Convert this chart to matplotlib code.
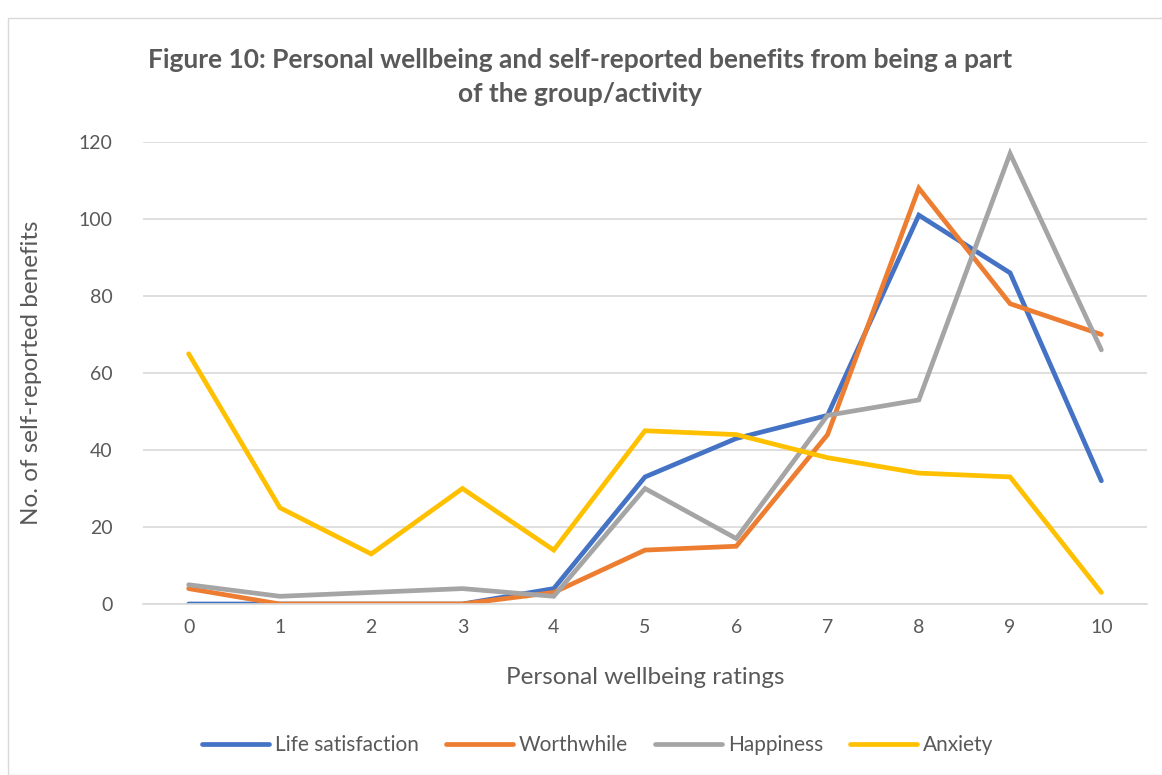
import matplotlib
matplotlib.use("Agg")
import matplotlib.pyplot as plt
from matplotlib.patches import Rectangle

ratings = [0, 1, 2, 3, 4, 5, 6, 7, 8, 9, 10]
life_satisfaction = [0, 0, 0, 0, 4, 33, 43, 49, 101, 86, 32]
worthwhile = [4, 0, 0, 0, 3, 14, 15, 44, 108, 78, 70]
happiness = [5, 2, 3, 4, 2, 30, 17, 49, 53, 117, 66]
anxiety = [65, 25, 13, 30, 14, 45, 44, 38, 34, 33, 3]

series = [
    ("Life satisfaction", life_satisfaction, "#4472C4"),
    ("Worthwhile", worthwhile, "#ED7D31"),
    ("Happiness", happiness, "#A5A5A5"),
    ("Anxiety", anxiety, "#FFC000"),
]

plt.rcParams['font.family'] = ['Lato', 'DejaVu Sans']
txt = "#595959"

fig = plt.figure(figsize=(11.62, 7.75), dpi=100)
fig.patches.append(Rectangle((8 / 1162, 0), 1.2, 1 - 18 / 775, transform=fig.transFigure,
                             fill=False, edgecolor="#d9d9d9", lw=1))
ax = fig.add_axes([143 / 1162, 1 - 604 / 775, 1004 / 1162, 462 / 775])

for name, vals, col in series:
    ax.plot(ratings, vals, color=col, lw=3.4, label=name, solid_capstyle='round',
            solid_joinstyle='miter')

ax.set_xlim(-0.5, 10.5)
ax.set_ylim(0, 120)
ax.set_yticks(range(0, 121, 20))
ax.set_xticks(ratings)
ax.grid(axis='y', color="#d9d9d9", lw=1.2)
ax.set_axisbelow(True)
for s in ['top', 'right', 'left']:
    ax.spines[s].set_visible(False)
ax.spines['bottom'].set_color("#d9d9d9")
ax.spines['bottom'].set_linewidth(1.2)
ax.tick_params(length=0, labelsize=14, colors=txt, pad=11)
ax.tick_params(axis='y', pad=22)

ax.set_xlabel("Personal wellbeing ratings", fontsize=17.5, color=txt, labelpad=22)
ax.set_ylabel("No. of self-reported benefits", fontsize=17.5, color=txt, labelpad=26)

fig.text(580 / 1162, 1 - 77 / 775,
         "Figure 10: Personal wellbeing and self-reported benefits from being a part\nof the group/activity",
         ha='center', va='center', fontsize=19, fontweight='bold', color=txt, linespacing=1.45)

fig.legend(loc='center', bbox_to_anchor=(598 / 1162, 1 - 745 / 775), ncol=4, frameon=False,
           fontsize=15, labelcolor=txt, handlelength=3.2, columnspacing=1.3, handletextpad=0.3)

fig.savefig("out.png", dpi=100)
